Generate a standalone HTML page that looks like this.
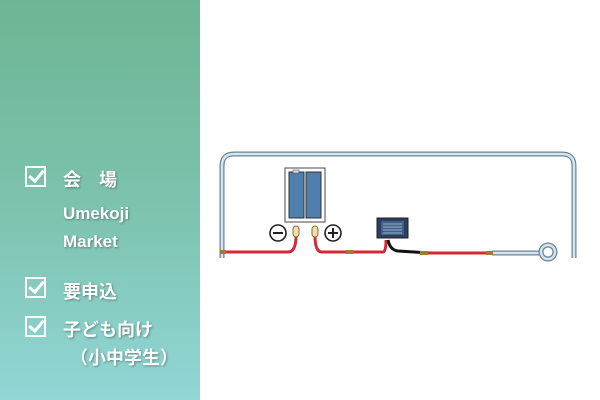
<!DOCTYPE html><html><head><meta charset="utf-8"><style>
body{margin:0;width:600px;height:400px;overflow:hidden;background:#fff;font-family:"Liberation Sans","Noto Sans CJK JP",sans-serif}
#l{position:absolute;left:0;top:0;width:200px;height:400px;background:linear-gradient(180deg,#6db593 0%,#7cc2ad 50%,#92d6d6 100%)}
.t{position:absolute;color:#fff;font-size:18px;font-weight:bold;text-shadow:1px 1px 2px rgba(0,0,0,.35);white-space:nowrap}
.cb{position:absolute;width:21px;height:21px;border:2.5px solid #fff;box-sizing:border-box}
.cb:after{content:"";position:absolute;left:5px;top:-1px;width:6px;height:12px;border:solid #fff;border-width:0 3px 3px 0;transform:rotate(40deg)}
</style></head><body>
<div id="l">
<div class="cb" style="left:25px;top:166px"></div><div class="t" style="left:63px;top:166px">会　場</div>
<div class="t" style="left:63px;top:204px;font-size:17px">Umekoji</div>
<div class="t" style="left:63px;top:232px;font-size:17px">Market</div>
<div class="cb" style="left:25px;top:277px"></div><div class="t" style="left:63px;top:278px">要申込</div>
<div class="cb" style="left:25px;top:316px"></div><div class="t" style="left:63px;top:316px">子ども向け</div>
<div class="t" style="left:70px;top:344px">（小中学生）</div>
</div>
<svg width="600" height="400" style="position:absolute;left:0;top:0">
<path d="M222 258V166Q222 154 234 154H562Q574 154 574 166V258" fill="none" stroke="#6b8295" stroke-width="5"/>
<path d="M222 258V166Q222 154 234 154H562Q574 154 574 166V258" fill="none" stroke="#d6e6ee" stroke-width="2.5"/>
<path d="M226 252H288Q296 252 296 236M315 236Q315 252 322 252H383Q386 252 386 240" fill="none" stroke="#d12a35" stroke-width="3"/>
<path d="M388 240Q390 250 398 251L430 253H488" fill="none" stroke="#111" stroke-width="3"/>
<path d="M428 253H488" fill="none" stroke="#d12a35" stroke-width="3"/>
<path d="M492 253H540" stroke="#6b8295" stroke-width="5"/><path d="M492 253H540" stroke="#d6e6ee" stroke-width="2.5"/>
<circle cx="548" cy="252" r="7" fill="none" stroke="#6b8295" stroke-width="5"/><circle cx="548" cy="252" r="7" fill="none" stroke="#d6e6ee" stroke-width="2.5"/>
<rect x="220" y="250" width="6" height="4" fill="#a07a3a"/>
<rect x="346" y="250" width="8" height="4" fill="#a07a3a"/><rect x="420" y="251" width="8" height="4" fill="#a07a3a"/><rect x="486" y="251" width="7" height="4" fill="#a07a3a"/>
<rect x="285" y="168" width="40" height="54" fill="#fff" stroke="#666" stroke-width="1.2"/>
<rect x="289" y="172" width="15" height="46" fill="#4f7fae" stroke="#333"/><rect x="306" y="172" width="15" height="46" fill="#4f7fae" stroke="#333"/>
<rect x="293" y="170" width="6" height="3" fill="#ddd" stroke="#555" stroke-width=".6"/>
<rect x="293" y="226" width="6" height="11" rx="3" fill="#f0dcae" stroke="#8a6a30"/><rect x="312" y="226" width="6" height="11" rx="3" fill="#f0dcae" stroke="#8a6a30"/>
<circle cx="278" cy="233" r="8" fill="#fff" stroke="#222" stroke-width="1.6"/><path d="M273 233H283" stroke="#222" stroke-width="2"/>
<circle cx="333" cy="233" r="8" fill="#fff" stroke="#222" stroke-width="1.6"/><path d="M328 233H338M333 228V238" stroke="#222" stroke-width="2"/>
<rect x="377" y="218" width="31" height="20" fill="#2c3e5a" stroke="#222"/>
<rect x="381" y="221" width="23" height="14" fill="#3f5f8c"/>
<path d="M383 224H402M383 227H402M383 230H402M383 233H402" stroke="#bcd" stroke-width=".8"/>
</svg>
</body></html>
